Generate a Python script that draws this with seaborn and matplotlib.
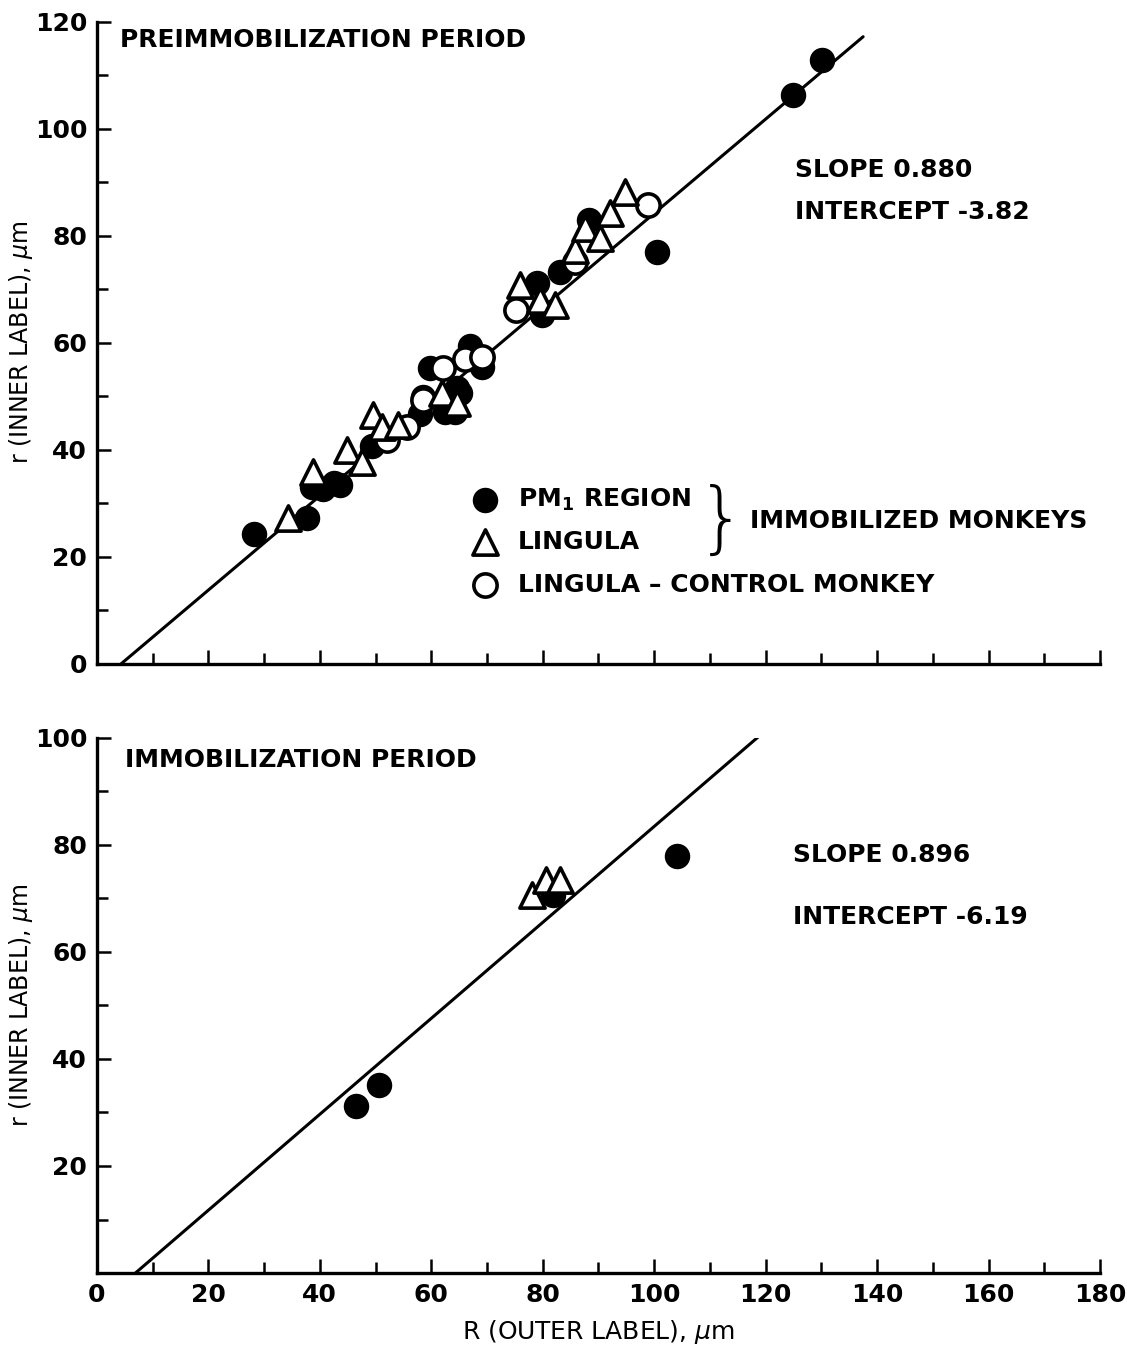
"""
Inner vs outer label radius, preimmobilization and immobilization periods.
"""

import matplotlib.pyplot as plt
import numpy as np
import pandas as pd
import seaborn as sns

# ---- top panel: preimmobilization period ----
pm1_R = [28.2, 37.7, 38.6, 40.5, 42.5, 43.6, 49.4, 58.0, 59.8, 58.5, 62.5, 64.3,
         64.6, 65.2, 67.0, 69.1, 79.0, 79.9, 83.1, 88.3, 100.5, 125.0, 130.2]
pm1_r = [24.3, 27.3, 33.1, 32.6, 33.8, 33.5, 40.7, 46.7, 55.3, 49.9, 47.1, 47.1,
         51.6, 50.7, 59.3, 55.5, 71.2, 65.2, 73.3, 83.0, 77.0, 106.2, 112.9]

ling_R = [34.3, 38.8, 44.9, 47.6, 49.6, 51.2, 54.0, 61.9, 64.6, 75.9, 79.5, 82.2,
          85.8, 87.6, 90.3, 92.1, 94.8]
ling_r = [27.3, 35.9, 40.0, 37.8, 46.5, 44.3, 44.7, 50.7, 48.8, 70.8, 68.0, 67.1,
          77.4, 81.5, 79.6, 84.3, 88.2]

ctrl_R = [52.1, 55.7, 58.5, 62.1, 66.0, 69.1, 75.2, 85.8, 98.9]
ctrl_r = [41.9, 44.3, 49.3, 55.3, 57.0, 57.4, 66.2, 75.0, 85.8]

top_slope, top_intercept = 0.880, -3.82
top_fit_R = [4.34, 137.5]

# ---- bottom panel: immobilization period ----
imm_pm1_R = [46.5, 50.6, 81.9, 104.1]
imm_pm1_r = [31.2, 35.1, 70.7, 77.9]
imm_ling_R = [78.1, 80.6, 83.1]
imm_ling_r = [70.7, 73.5, 73.5]

bot_slope, bot_intercept = 0.896, -6.19
bot_fit_R = [6.9, 119.5]

FONT = "DejaVu Sans"

sns.set_style("ticks")
plt.rcParams["font.family"] = [FONT]
plt.rcParams["text.color"] = "black"
plt.rcParams["axes.labelcolor"] = "black"
plt.rcParams["xtick.color"] = "black"
plt.rcParams["ytick.color"] = "black"
plt.rcParams["axes.edgecolor"] = "black"

fig = plt.figure(figsize=(11.27, 13.52), dpi=100)
ax_top = fig.add_axes([0.086, 0.509, 0.890, 0.475])
ax_bot = fig.add_axes([0.086, 0.0584, 0.890, 0.396])

filled_kw = dict(marker="o", s=300, color="black", edgecolor="black", linewidth=1)
tri_kw = dict(marker="^", s=330, color="white", edgecolor="black", linewidth=2.6)
open_kw = dict(marker="o", s=280, color="white", edgecolor="black", linewidth=2.6)


def draw_fit(ax, xs, slope, intercept):
    xs = np.array(xs)
    fit = pd.DataFrame({"R": xs, "r": slope * xs + intercept})
    sns.lineplot(data=fit, x="R", y="r", ax=ax, color="black", linewidth=2.2, zorder=1)


def style_axes(ax, ymax, ylabels):
    ax.set_xlim(0, 180)
    ax.set_ylim(0, ymax)
    sns.despine(ax=ax)
    for s in ("left", "bottom"):
        ax.spines[s].set_linewidth(2.4)
    ax.set_yticks(np.arange(0, ymax + 1, 20))
    ax.set_yticks(np.arange(0, ymax + 1, 10), minor=True)
    ax.set_yticklabels(ylabels)
    ax.set_xticks(np.arange(0, 181, 20))
    ax.set_xticks(np.arange(0, 181, 10), minor=True)
    ax.tick_params(which="both", direction="in", width=1.8, labelsize=18, pad=7)
    ax.tick_params(which="major", length=10)
    ax.tick_params(which="minor", length=8)
    for t in ax.get_xticklabels() + ax.get_yticklabels():
        t.set_fontweight("bold")
    ax.set_ylabel(r"r (INNER LABEL), $\mu$m", fontsize=17)
    # label anchor is its right edge once rotated
    ax.yaxis.set_label_coords(-0.062, 0.5)


# top panel
draw_fit(ax_top, top_fit_R, top_slope, top_intercept)
sns.scatterplot(x=pm1_R, y=pm1_r, ax=ax_top, zorder=3, **filled_kw)
sns.scatterplot(x=ctrl_R, y=ctrl_r, ax=ax_top, zorder=4, **open_kw)
sns.scatterplot(x=ling_R, y=ling_r, ax=ax_top, zorder=5, **tri_kw)
style_axes(ax_top, 120, [str(v) for v in range(0, 121, 20)])
ax_top.set_xticklabels([])
ax_top.set_xlabel("")

txt = dict(fontsize=18, fontweight="bold", va="center", ha="left")
ax_top.text(4.1, 116.6, "PREIMMOBILIZATION PERIOD", **txt)
ax_top.text(125.3, 92.3, "SLOPE 0.880", **txt)
ax_top.text(125.3, 84.5, "INTERCEPT -3.82", **txt)

# legend drawn by hand, with the brace
ax_top.scatter([69.7], [30.7], **filled_kw, clip_on=False)
ax_top.scatter([69.7], [22.8], **tri_kw, clip_on=False)
ax_top.scatter([69.7], [14.8], **open_kw, clip_on=False)
ax_top.text(75.6, 30.7, r"PM$_{\mathbf{1}}$ REGION", **txt)
ax_top.text(75.6, 22.8, "LINGULA", **txt)
ax_top.text(75.6, 14.8, "LINGULA \u2013 CONTROL MONKEY", **txt)
ax_top.text(107.6, 26.6, "}", fontsize=56, va="center", ha="left",
            fontweight="light")
ax_top.text(117.2, 26.7, "IMMOBILIZED MONKEYS", **txt)

# bottom panel
draw_fit(ax_bot, bot_fit_R, bot_slope, bot_intercept)
sns.scatterplot(x=imm_pm1_R, y=imm_pm1_r, ax=ax_bot, zorder=3, **filled_kw)
sns.scatterplot(x=imm_ling_R, y=imm_ling_r, ax=ax_bot, zorder=5, **tri_kw)
style_axes(ax_bot, 100, [""] + [str(v) for v in range(20, 101, 20)])
ax_bot.set_xticklabels([str(v) for v in range(0, 181, 20)])
for t in ax_bot.get_xticklabels():
    t.set_fontweight("bold")
ax_bot.set_xlabel(r"R (OUTER LABEL), $\mu$m", fontsize=18, labelpad=8)
ax_bot.text(5.0, 95.9, "IMMOBILIZATION PERIOD", **txt)
ax_bot.text(125.0, 78.1, "SLOPE 0.896", **txt)
ax_bot.text(125.0, 66.5, "INTERCEPT -6.19", **txt)

fig.savefig("out.png", dpi=100)
